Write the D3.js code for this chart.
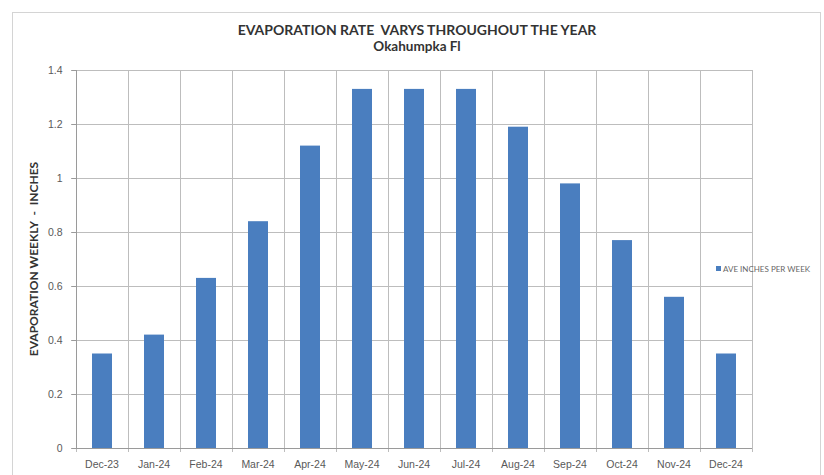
<!DOCTYPE html>
<html>
<head>
<meta charset="utf-8">
<script src="https://cdn.jsdelivr.net/npm/d3@7"></script>
<style>
  body { margin: 0; background: #fff; }
  svg { display: block; font-family: Lato, "Open Sans", sans-serif; }
  .grid line { stroke: #bdbdbd; stroke-width: 1; }
  .axis path, .axis line { stroke: #9a9a9a; }
  .axis text { fill: #595959; font-size: 10.5px; }
</style>
</head>
<body>
<svg id="svg" width="824" height="475"></svg>
<script>
// data
var months = ["Dec-23", "Jan-24", "Feb-24", "Mar-24", "Apr-24", "May-24", "Jun-24",
              "Jul-24", "Aug-24", "Sep-24", "Oct-24", "Nov-24", "Dec-24"];
var inchesPerWeek = [0.35, 0.42, 0.63, 0.84, 1.12, 1.33, 1.33, 1.33, 1.19, 0.98, 0.77, 0.56, 0.35];
var yTicks = [0, 0.2, 0.4, 0.6, 0.8, 1, 1.2, 1.4];
var seriesName = "AVE INCHES PER WEEK";

var svg = d3.select("#svg");
var plotL = 76, plotR = 752, plotT = 70, plotB = 448;

// outer chart frame
svg.append("rect")
  .attr("x", 12.5).attr("y", 12.5)
  .attr("width", 808).attr("height", 480)
  .attr("fill", "none").attr("stroke", "#d4d4d4");

var x = d3.scaleBand().domain(months).range([plotL, plotR]).paddingInner(0).paddingOuter(0);
var y = d3.scaleLinear().domain([0, 1.4]).range([plotB, plotT]);

// horizontal gridlines
svg.append("g").attr("class", "grid")
  .selectAll("line").data(yTicks).enter().append("line")
  .attr("x1", plotL - 5).attr("x2", plotR)
  .attr("y1", function(d) { return Math.round(y(d)) + 0.5; })
  .attr("y2", function(d) { return Math.round(y(d)) + 0.5; });

// vertical gridlines at category boundaries
var bounds = months.map(function(m) { return x(m); }).concat([plotR]);
svg.append("g").attr("class", "grid")
  .selectAll("line").data(bounds).enter().append("line")
  .attr("x1", function(d) { return Math.round(d) + 0.5; })
  .attr("x2", function(d) { return Math.round(d) + 0.5; })
  .attr("y1", plotT).attr("y2", plotB + 4);

// bars
var barW = 20;
svg.append("g").selectAll("rect")
  .data(inchesPerWeek).enter().append("rect")
  .attr("x", function(d, i) { return x(months[i]) + x.bandwidth() / 2 - barW / 2; })
  .attr("y", function(d) { return y(d); })
  .attr("width", barW)
  .attr("height", function(d) { return plotB - y(d); })
  .attr("fill", "#4a7ebf");

// y axis
var yAxis = d3.axisLeft(y).tickValues(yTicks).tickSize(5).tickPadding(9)
  .tickFormat(function(d) { return String(d); });
svg.append("g").attr("class", "axis")
  .attr("transform", "translate(" + (plotL + 0.5) + ",0)")
  .call(yAxis)
  .call(function(g) { g.select(".domain").remove(); });
svg.append("line")
  .attr("x1", plotL + 0.5).attr("x2", plotL + 0.5)
  .attr("y1", plotT).attr("y2", plotB)
  .attr("stroke", "#9a9a9a");

// x axis
var xAxis = d3.axisBottom(x).tickSize(0).tickPadding(12);
svg.append("g").attr("class", "axis")
  .attr("transform", "translate(0," + (plotB + 0.5) + ")")
  .call(xAxis)
  .call(function(g) { g.select(".domain").attr("d", "M" + plotL + ",0H" + plotR); });

// titles
svg.append("text")
  .attr("x", 417).attr("y", 35)
  .attr("text-anchor", "middle")
  .attr("font-size", "14px").attr("font-weight", "bold").attr("fill", "#333")
  .style("white-space", "pre")
  .text("EVAPORATION RATE  VARYS THROUGHOUT THE YEAR");
svg.append("text")
  .attr("x", 417).attr("y", 51)
  .attr("text-anchor", "middle")
  .attr("font-size", "13.5px").attr("font-weight", "bold").attr("fill", "#333")
  .text("Okahumpka Fl");

svg.append("text")
  .attr("transform", "translate(38,259) rotate(-90)")
  .attr("text-anchor", "middle")
  .attr("font-size", "12px").attr("font-weight", "bold").attr("fill", "#333")
  .style("white-space", "pre")
  .text("EVAPORATION WEEKLY  -  INCHES");

// legend
var lg = svg.append("g").attr("transform", "translate(716,270)");
lg.append("rect").attr("x", 0).attr("y", -4).attr("width", 5).attr("height", 5).attr("fill", "#4a7ebf");
lg.append("text").attr("x", 7).attr("y", 1.5)
  .attr("font-size", "8px").attr("fill", "#666")
  .text(seriesName);
</script>
</body>
</html>
